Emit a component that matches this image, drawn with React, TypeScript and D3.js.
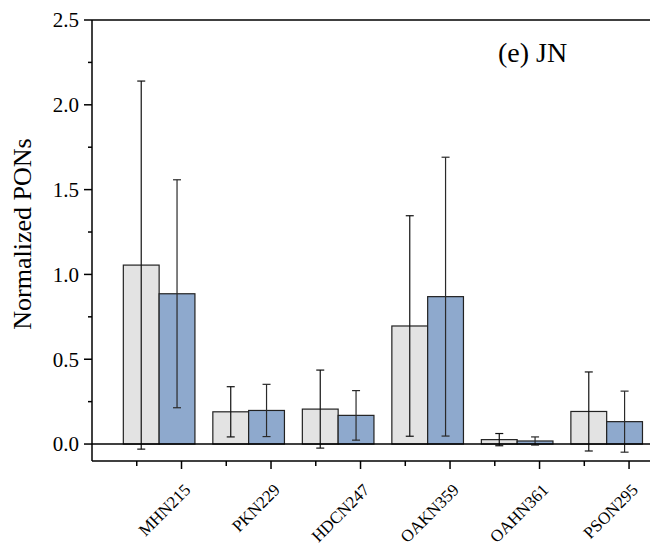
import * as d3 from "d3";
import { useRef, useEffect } from "react";

const categories = ["MHN215", "PKN229", "HDCN247", "OAKN359", "OAHN361", "PSON295"];
const grayValues = [1.055, 0.19, 0.206, 0.696, 0.026, 0.192];
const grayErrors = [1.085, 0.148, 0.23, 0.65, 0.036, 0.233];
const blueValues = [0.886, 0.198, 0.169, 0.869, 0.018, 0.132];
const blueErrors = [0.672, 0.154, 0.146, 0.822, 0.024, 0.18];
const yTicks = [0, 0.5, 1.0, 1.5, 2.0, 2.5];
const yMinorTicks = [0.25, 0.75, 1.25, 1.75, 2.25];
const xMinorTicks = [0.5, 1.5, 2.5, 3.5, 4.5, 5.5];

const App = () => {
    const svgRef = useRef<SVGSVGElement>(null);

    useEffect(() => {
        const svg = d3.select(svgRef.current);
        svg.selectAll("*").remove();

        const width = 650;
        const height = 546;
        const left = 92;

        svg.attr("width", width).attr("height", height)
            .attr("font-family", "Times New Roman, Liberation Serif, serif");

        // scales
        const x = d3.scaleLinear().domain([0, 6.234]).range([left, width]);
        const y = d3.scaleLinear().domain([-0.1, 2.5]).range([461, 20]);

        const barW = x(0.4) - x(0);
        const series = [
            { values: grayValues, errors: grayErrors, offset: -0.45, fill: "#e3e3e3", err: "#111" },
            { values: blueValues, errors: blueErrors, offset: -0.05, fill: "#8ea9cd", err: "#2a2a2a" },
        ];

        // bars
        series.forEach((s) => {
            svg.append("g")
                .selectAll("rect")
                .data(s.values)
                .enter()
                .append("rect")
                .attr("x", (d, i) => x(i + 1 + s.offset) - barW / 2)
                .attr("y", (d) => y(d))
                .attr("width", barW)
                .attr("height", (d) => y(0) - y(d))
                .attr("fill", s.fill)
                .attr("stroke", "#222")
                .attr("stroke-width", 1.2);
        });

        // error bars
        series.forEach((s) => {
            const g = svg.append("g").attr("stroke", s.err).attr("stroke-width", 1.2);
            s.values.forEach((v, i) => {
                const cx = x(i + 1 + s.offset);
                const top = y(v + s.errors[i]);
                const bot = y(v - s.errors[i]);
                g.append("line").attr("x1", cx).attr("x2", cx).attr("y1", top).attr("y2", bot);
                g.append("line").attr("x1", cx - 4).attr("x2", cx + 4).attr("y1", top).attr("y2", top);
                g.append("line").attr("x1", cx - 4).attr("x2", cx + 4).attr("y1", bot).attr("y2", bot);
            });
        });

        // frame lines: top, zero, bottom, left
        const axisG = svg.append("g").attr("stroke", "#000").attr("stroke-width", 1.5);
        axisG.append("line").attr("x1", left).attr("x2", width).attr("y1", y(2.5)).attr("y2", y(2.5));
        axisG.append("line").attr("x1", left).attr("x2", width).attr("y1", y(0)).attr("y2", y(0));
        axisG.append("line").attr("x1", left).attr("x2", width).attr("y1", y(-0.1)).attr("y2", y(-0.1));
        axisG.append("line").attr("x1", left).attr("x2", left).attr("y1", y(2.5)).attr("y2", y(-0.1));

        // y ticks
        yTicks.forEach((t) => {
            axisG.append("line").attr("x1", left - 8).attr("x2", left).attr("y1", y(t)).attr("y2", y(t));
        });
        yMinorTicks.forEach((t) => {
            axisG.append("line").attr("x1", left - 4).attr("x2", left).attr("y1", y(t)).attr("y2", y(t));
        });
        svg.append("g")
            .selectAll("text")
            .data(yTicks)
            .enter()
            .append("text")
            .attr("x", left - 13)
            .attr("y", (d) => y(d))
            .attr("dy", "0.35em")
            .attr("text-anchor", "end")
            .attr("font-size", "21px")
            .text((d) => d3.format(".1f")(d));

        // x ticks
        categories.forEach((c, i) => {
            axisG.append("line").attr("x1", x(i + 1)).attr("x2", x(i + 1)).attr("y1", y(-0.1)).attr("y2", y(-0.1) + 8);
        });
        xMinorTicks.forEach((t) => {
            axisG.append("line").attr("x1", x(t)).attr("x2", x(t)).attr("y1", y(-0.1)).attr("y2", y(-0.1) + 5);
        });
        svg.append("g")
            .selectAll("text")
            .data(categories)
            .enter()
            .append("text")
            .attr("transform", (d, i) => `translate(${x(i + 1) + 10}, ${y(-0.1) + 30}) rotate(-45)`)
            .attr("text-anchor", "end")
            .attr("font-size", "17px")
            .text((d) => d);

        // axis title
        svg.append("text")
            .attr("transform", `translate(31, ${234}) rotate(-90)`)
            .attr("text-anchor", "middle")
            .attr("font-size", "26px")
            .text("Normalized PONs");

        // panel label
        svg.append("text")
            .attr("x", 498)
            .attr("y", 62)
            .attr("font-size", "28px")
            .text("(e) JN");
    }, []);

    return (
        <div style={{ position: "absolute", left: 0, top: 0 }}>
            <svg ref={svgRef} style={{ display: "block" }} />
        </div>
    );
};

export default App;
